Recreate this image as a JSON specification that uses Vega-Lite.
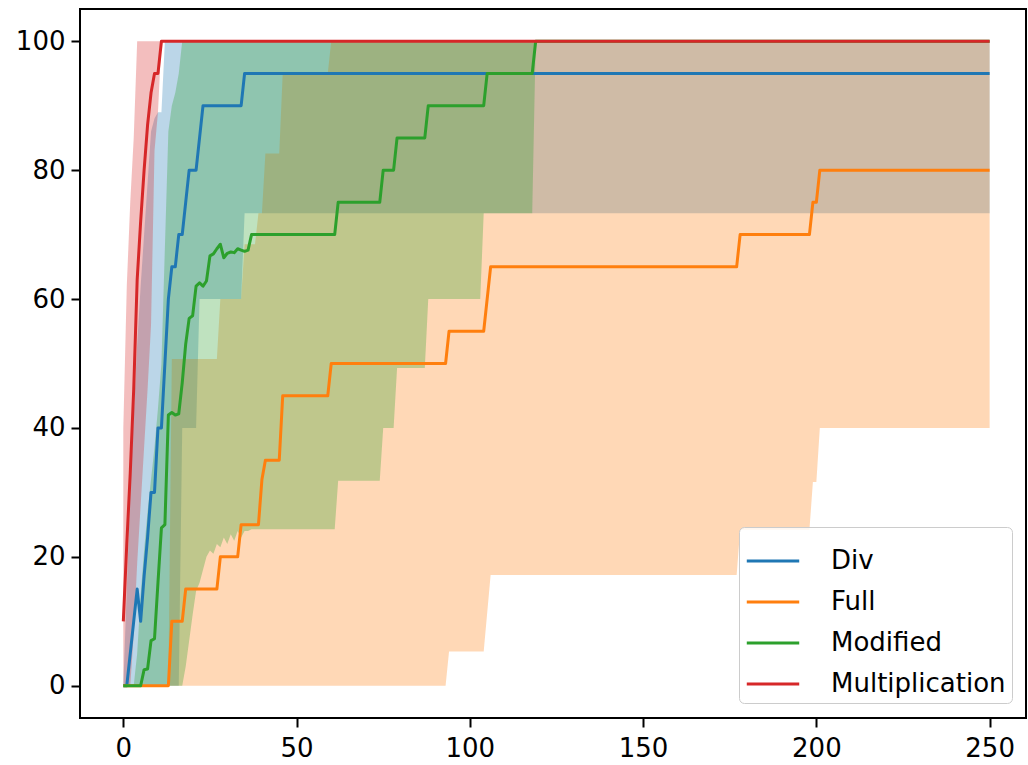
{
  "$schema": "https://vega.github.io/schema/vega-lite/v6.json",
  "width": 946,
  "height": 709,
  "autosize": {"type": "none"},
  "padding": {"left": 80, "top": 9, "right": 2, "bottom": 47},
  "background": "white",
  "config": {
    "view": {"stroke": "black", "strokeWidth": 2},
    "axis": {
      "grid": false,
      "domain": false,
      "title": null,
      "labelFont": "DejaVu Sans",
      "labelFontSize": 26,
      "labelColor": "black",
      "tickColor": "black",
      "tickSize": 9,
      "tickWidth": 2
    }
  },
  "datasets": {
    "bands": [
      {"s": "Div", "x": 0, "lo": 0, "hi": 0},
      {"s": "Div", "x": 1, "lo": 0, "hi": 15},
      {"s": "Div", "x": 2, "lo": 0, "hi": 30},
      {"s": "Div", "x": 3, "lo": 0, "hi": 42},
      {"s": "Div", "x": 4, "lo": 0, "hi": 53},
      {"s": "Div", "x": 5, "lo": 0, "hi": 62},
      {"s": "Div", "x": 6, "lo": 0, "hi": 70},
      {"s": "Div", "x": 7, "lo": 0, "hi": 78},
      {"s": "Div", "x": 8, "lo": 0, "hi": 86},
      {"s": "Div", "x": 9, "lo": 0, "hi": 88},
      {"s": "Div", "x": 10, "lo": 0, "hi": 89},
      {"s": "Div", "x": 11, "lo": 0, "hi": 89},
      {"s": "Div", "x": 12, "lo": 0, "hi": 100},
      {"s": "Div", "x": 16, "lo": 0, "hi": 100},
      {"s": "Div", "x": 17, "lo": 40, "hi": 100},
      {"s": "Div", "x": 21, "lo": 40, "hi": 100},
      {"s": "Div", "x": 22, "lo": 60, "hi": 100},
      {"s": "Div", "x": 34, "lo": 60, "hi": 100},
      {"s": "Div", "x": 35, "lo": 73.3, "hi": 100},
      {"s": "Div", "x": 250, "lo": 73.3, "hi": 100},

      {"s": "Full", "x": 0, "lo": 0, "hi": 0},
      {"s": "Full", "x": 13, "lo": 0, "hi": 0},
      {"s": "Full", "x": 14, "lo": 0, "hi": 50.7},
      {"s": "Full", "x": 27, "lo": 0, "hi": 50.7},
      {"s": "Full", "x": 28, "lo": 0, "hi": 60},
      {"s": "Full", "x": 34, "lo": 0, "hi": 60},
      {"s": "Full", "x": 35, "lo": 0, "hi": 68.5},
      {"s": "Full", "x": 38, "lo": 0, "hi": 68.5},
      {"s": "Full", "x": 39, "lo": 0, "hi": 73.3},
      {"s": "Full", "x": 40, "lo": 0, "hi": 73.3},
      {"s": "Full", "x": 41, "lo": 0, "hi": 82.6},
      {"s": "Full", "x": 45, "lo": 0, "hi": 82.6},
      {"s": "Full", "x": 46, "lo": 0, "hi": 95},
      {"s": "Full", "x": 59, "lo": 0, "hi": 95},
      {"s": "Full", "x": 60, "lo": 0, "hi": 100},
      {"s": "Full", "x": 93, "lo": 0, "hi": 100},
      {"s": "Full", "x": 94, "lo": 5.3, "hi": 100},
      {"s": "Full", "x": 104, "lo": 5.3, "hi": 100},
      {"s": "Full", "x": 106, "lo": 17.2, "hi": 100},
      {"s": "Full", "x": 177, "lo": 17.2, "hi": 100},
      {"s": "Full", "x": 178, "lo": 24.2, "hi": 100},
      {"s": "Full", "x": 198, "lo": 24.2, "hi": 100},
      {"s": "Full", "x": 199, "lo": 31.6, "hi": 100},
      {"s": "Full", "x": 200, "lo": 31.6, "hi": 100},
      {"s": "Full", "x": 201, "lo": 40, "hi": 100},
      {"s": "Full", "x": 250, "lo": 40, "hi": 100},

      {"s": "Modified", "x": 0, "lo": 0, "hi": 0},
      {"s": "Modified", "x": 3, "lo": 0, "hi": 0},
      {"s": "Modified", "x": 4, "lo": 0, "hi": 5},
      {"s": "Modified", "x": 5, "lo": 0, "hi": 14},
      {"s": "Modified", "x": 6, "lo": 0, "hi": 21},
      {"s": "Modified", "x": 7, "lo": 0, "hi": 27},
      {"s": "Modified", "x": 8, "lo": 0, "hi": 32},
      {"s": "Modified", "x": 9, "lo": 0, "hi": 37},
      {"s": "Modified", "x": 10, "lo": 0, "hi": 43},
      {"s": "Modified", "x": 11, "lo": 0, "hi": 50},
      {"s": "Modified", "x": 12, "lo": 0, "hi": 68},
      {"s": "Modified", "x": 13, "lo": 0, "hi": 86},
      {"s": "Modified", "x": 14, "lo": 0, "hi": 90},
      {"s": "Modified", "x": 15, "lo": 0, "hi": 92},
      {"s": "Modified", "x": 16, "lo": 0, "hi": 95},
      {"s": "Modified", "x": 17, "lo": 0, "hi": 100},
      {"s": "Modified", "x": 18, "lo": 3, "hi": 100},
      {"s": "Modified", "x": 19, "lo": 7, "hi": 100},
      {"s": "Modified", "x": 20, "lo": 11, "hi": 100},
      {"s": "Modified", "x": 21, "lo": 14.7, "hi": 100},
      {"s": "Modified", "x": 22, "lo": 16, "hi": 100},
      {"s": "Modified", "x": 23, "lo": 18, "hi": 100},
      {"s": "Modified", "x": 24, "lo": 20, "hi": 100},
      {"s": "Modified", "x": 25, "lo": 21, "hi": 100},
      {"s": "Modified", "x": 26, "lo": 20.5, "hi": 100},
      {"s": "Modified", "x": 27, "lo": 22, "hi": 100},
      {"s": "Modified", "x": 28, "lo": 21.5, "hi": 100},
      {"s": "Modified", "x": 29, "lo": 23, "hi": 100},
      {"s": "Modified", "x": 30, "lo": 22, "hi": 100},
      {"s": "Modified", "x": 31, "lo": 23.5, "hi": 100},
      {"s": "Modified", "x": 32, "lo": 22.5, "hi": 100},
      {"s": "Modified", "x": 33, "lo": 24, "hi": 100},
      {"s": "Modified", "x": 34, "lo": 23, "hi": 100},
      {"s": "Modified", "x": 35, "lo": 24, "hi": 100},
      {"s": "Modified", "x": 36, "lo": 24, "hi": 100},
      {"s": "Modified", "x": 37, "lo": 24.3, "hi": 100},
      {"s": "Modified", "x": 61, "lo": 24.3, "hi": 100},
      {"s": "Modified", "x": 62, "lo": 31.8, "hi": 100},
      {"s": "Modified", "x": 74, "lo": 31.8, "hi": 100},
      {"s": "Modified", "x": 75, "lo": 40, "hi": 100},
      {"s": "Modified", "x": 78, "lo": 40, "hi": 100},
      {"s": "Modified", "x": 79, "lo": 49.3, "hi": 100},
      {"s": "Modified", "x": 87, "lo": 49.3, "hi": 100},
      {"s": "Modified", "x": 88, "lo": 60, "hi": 100},
      {"s": "Modified", "x": 103, "lo": 60, "hi": 100},
      {"s": "Modified", "x": 104, "lo": 73.3, "hi": 100},
      {"s": "Modified", "x": 118, "lo": 73.3, "hi": 100},
      {"s": "Modified", "x": 119, "lo": 100, "hi": 100},
      {"s": "Modified", "x": 250, "lo": 100, "hi": 100},

      {"s": "Multiplication", "x": 0, "lo": 0, "hi": 40},
      {"s": "Multiplication", "x": 1, "lo": 0, "hi": 62},
      {"s": "Multiplication", "x": 2, "lo": 0, "hi": 75},
      {"s": "Multiplication", "x": 3, "lo": 8, "hi": 85},
      {"s": "Multiplication", "x": 4, "lo": 19, "hi": 100},
      {"s": "Multiplication", "x": 5, "lo": 28, "hi": 100},
      {"s": "Multiplication", "x": 6, "lo": 37, "hi": 100},
      {"s": "Multiplication", "x": 7, "lo": 46, "hi": 100},
      {"s": "Multiplication", "x": 8, "lo": 56, "hi": 100},
      {"s": "Multiplication", "x": 9, "lo": 83, "hi": 100},
      {"s": "Multiplication", "x": 10, "lo": 89, "hi": 100},
      {"s": "Multiplication", "x": 11, "lo": 100, "hi": 100},
      {"s": "Multiplication", "x": 250, "lo": 100, "hi": 100}
    ],
    "means": [
      {"s": "Div", "x": 0, "y": 0},
      {"s": "Div", "x": 1, "y": 0},
      {"s": "Div", "x": 2, "y": 5},
      {"s": "Div", "x": 3, "y": 10},
      {"s": "Div", "x": 4, "y": 15},
      {"s": "Div", "x": 5, "y": 10},
      {"s": "Div", "x": 6, "y": 17},
      {"s": "Div", "x": 7, "y": 23},
      {"s": "Div", "x": 8, "y": 30},
      {"s": "Div", "x": 9, "y": 30},
      {"s": "Div", "x": 10, "y": 40},
      {"s": "Div", "x": 11, "y": 40},
      {"s": "Div", "x": 12, "y": 50},
      {"s": "Div", "x": 13, "y": 60},
      {"s": "Div", "x": 14, "y": 65},
      {"s": "Div", "x": 15, "y": 65},
      {"s": "Div", "x": 16, "y": 70},
      {"s": "Div", "x": 17, "y": 70},
      {"s": "Div", "x": 18, "y": 75},
      {"s": "Div", "x": 19, "y": 80},
      {"s": "Div", "x": 21, "y": 80},
      {"s": "Div", "x": 22, "y": 85},
      {"s": "Div", "x": 23, "y": 90},
      {"s": "Div", "x": 34, "y": 90},
      {"s": "Div", "x": 35, "y": 95},
      {"s": "Div", "x": 250, "y": 95},

      {"s": "Full", "x": 0, "y": 0},
      {"s": "Full", "x": 13, "y": 0},
      {"s": "Full", "x": 14, "y": 10},
      {"s": "Full", "x": 17, "y": 10},
      {"s": "Full", "x": 18, "y": 15},
      {"s": "Full", "x": 27, "y": 15},
      {"s": "Full", "x": 28, "y": 20},
      {"s": "Full", "x": 33, "y": 20},
      {"s": "Full", "x": 34, "y": 25},
      {"s": "Full", "x": 39, "y": 25},
      {"s": "Full", "x": 40, "y": 32},
      {"s": "Full", "x": 41, "y": 35},
      {"s": "Full", "x": 45, "y": 35},
      {"s": "Full", "x": 46, "y": 45},
      {"s": "Full", "x": 59, "y": 45},
      {"s": "Full", "x": 60, "y": 50},
      {"s": "Full", "x": 93, "y": 50},
      {"s": "Full", "x": 94, "y": 55},
      {"s": "Full", "x": 104, "y": 55},
      {"s": "Full", "x": 106, "y": 65},
      {"s": "Full", "x": 177, "y": 65},
      {"s": "Full", "x": 178, "y": 70},
      {"s": "Full", "x": 198, "y": 70},
      {"s": "Full", "x": 199, "y": 75},
      {"s": "Full", "x": 200, "y": 75},
      {"s": "Full", "x": 201, "y": 80},
      {"s": "Full", "x": 250, "y": 80},

      {"s": "Modified", "x": 0, "y": 0},
      {"s": "Modified", "x": 5, "y": 0},
      {"s": "Modified", "x": 6, "y": 2.5},
      {"s": "Modified", "x": 7, "y": 2.6},
      {"s": "Modified", "x": 8, "y": 7},
      {"s": "Modified", "x": 9, "y": 7.3},
      {"s": "Modified", "x": 10, "y": 16},
      {"s": "Modified", "x": 11, "y": 24.5},
      {"s": "Modified", "x": 12, "y": 25},
      {"s": "Modified", "x": 13, "y": 42},
      {"s": "Modified", "x": 14, "y": 42.4},
      {"s": "Modified", "x": 15, "y": 42},
      {"s": "Modified", "x": 16, "y": 42.2},
      {"s": "Modified", "x": 17, "y": 47},
      {"s": "Modified", "x": 18, "y": 53},
      {"s": "Modified", "x": 19, "y": 57},
      {"s": "Modified", "x": 20, "y": 57.4},
      {"s": "Modified", "x": 21, "y": 62},
      {"s": "Modified", "x": 22, "y": 62.5},
      {"s": "Modified", "x": 23, "y": 62},
      {"s": "Modified", "x": 24, "y": 62.8},
      {"s": "Modified", "x": 25, "y": 66.7},
      {"s": "Modified", "x": 26, "y": 67},
      {"s": "Modified", "x": 27, "y": 67.8},
      {"s": "Modified", "x": 28, "y": 68.5},
      {"s": "Modified", "x": 29, "y": 66.4},
      {"s": "Modified", "x": 30, "y": 67.1},
      {"s": "Modified", "x": 31, "y": 67.3},
      {"s": "Modified", "x": 32, "y": 67.2},
      {"s": "Modified", "x": 33, "y": 67.8},
      {"s": "Modified", "x": 34, "y": 67.6},
      {"s": "Modified", "x": 35, "y": 67.4},
      {"s": "Modified", "x": 36, "y": 67.6},
      {"s": "Modified", "x": 37, "y": 70},
      {"s": "Modified", "x": 61, "y": 70},
      {"s": "Modified", "x": 62, "y": 75},
      {"s": "Modified", "x": 74, "y": 75},
      {"s": "Modified", "x": 75, "y": 80},
      {"s": "Modified", "x": 78, "y": 80},
      {"s": "Modified", "x": 79, "y": 85},
      {"s": "Modified", "x": 87, "y": 85},
      {"s": "Modified", "x": 88, "y": 90},
      {"s": "Modified", "x": 104, "y": 90},
      {"s": "Modified", "x": 105, "y": 95},
      {"s": "Modified", "x": 118, "y": 95},
      {"s": "Modified", "x": 119, "y": 100},
      {"s": "Modified", "x": 250, "y": 100},

      {"s": "Multiplication", "x": 0, "y": 10},
      {"s": "Multiplication", "x": 1, "y": 22},
      {"s": "Multiplication", "x": 2, "y": 33},
      {"s": "Multiplication", "x": 3, "y": 46},
      {"s": "Multiplication", "x": 4, "y": 63},
      {"s": "Multiplication", "x": 5, "y": 72},
      {"s": "Multiplication", "x": 6, "y": 80},
      {"s": "Multiplication", "x": 7, "y": 87},
      {"s": "Multiplication", "x": 8, "y": 92},
      {"s": "Multiplication", "x": 9, "y": 95},
      {"s": "Multiplication", "x": 10, "y": 95},
      {"s": "Multiplication", "x": 11, "y": 100},
      {"s": "Multiplication", "x": 250, "y": 100}
    ]
  },
  "layer": [
    {
      "data": {"name": "bands"},
      "mark": {"type": "area", "fillOpacity": 0.3, "interpolate": "linear"},
      "encoding": {
        "x": {
          "field": "x", "type": "quantitative",
          "scale": {"domain": [-12.5, 260.5], "nice": false, "zero": false},
          "axis": {"values": [0, 50, 100, 150, 200, 250], "labelPadding": 8}
        },
        "y": {
          "field": "lo", "type": "quantitative",
          "scale": {"domain": [-5, 105], "nice": false, "zero": false},
          "axis": {"values": [0, 20, 40, 60, 80, 100], "labelPadding": 6}
        },
        "y2": {"field": "hi"},
        "color": {
          "field": "s", "type": "nominal",
          "scale": {
            "domain": ["Div", "Full", "Modified", "Multiplication"],
            "range": ["#1f77b4", "#ff7f0e", "#2ca02c", "#d62728"]
          },
          "legend": null
        }
      }
    },
    {
      "data": {"name": "means"},
      "mark": {"type": "line", "strokeWidth": 3, "strokeJoin": "round"},
      "encoding": {
        "x": {"field": "x", "type": "quantitative"},
        "y": {"field": "y", "type": "quantitative"},
        "color": {
          "field": "s", "type": "nominal",
          "legend": {
            "orient": "none",
            "legendX": 659,
            "legendY": 518,
            "title": null,
            "symbolType": "stroke",
            "symbolSize": 2750,
            "symbolStrokeWidth": 3,
            "labelFont": "DejaVu Sans",
            "labelFontSize": 26,
            "labelColor": "black",
            "labelLimit": 0,
            "labelOffset": 30,
            "padding": 6,
            "rowPadding": 0,
            "strokeColor": "#cccccc",
            "fillColor": "rgba(255,255,255,0.8)",
            "cornerRadius": 5
          }
        }
      }
    }
  ],
  "resolve": {"legend": {"color": "independent"}}
}
